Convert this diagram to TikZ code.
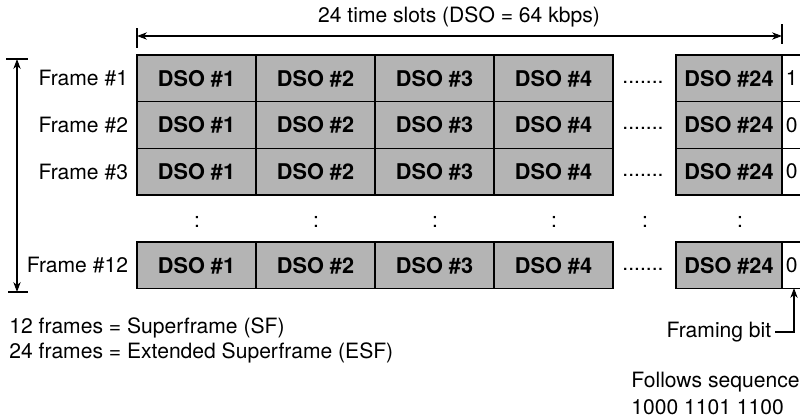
\documentclass[tikz,border=0pt]{standalone}
\usepackage{fontspec}
\setmainfont{TeX Gyre Heros}
\usetikzlibrary{arrows.meta,positioning}
\definecolor{slotgray}{RGB}{180,180,180}
\tikzset{
  dsocell/.style={draw, fill=slotgray, line width=1.1pt, minimum width=3.57cm,
    minimum height=1.4cm, inner sep=0pt, outer sep=0pt,
    font=\fontsize{18.5}{21}\selectfont\bfseries},
  lastcell/.style={dsocell, minimum width=3.18cm},
  bitcell/.style={draw, fill=white, line width=1.1pt, minimum width=1cm,
    minimum height=1.4cm, inner sep=0pt, outer sep=0pt},
  lbl/.style={font=\fontsize{18}{21}\selectfont, inner sep=1pt},
  bitlbl/.style={lbl, anchor=west, inner sep=3pt},
  dimln/.style={{Stealth[length=3mm,width=2.2mm]}-{Stealth[length=3mm,width=2.2mm]}, line width=0.9pt},
  ptrln/.style={-{Stealth[length=3mm,width=2.2mm]}, line width=0.9pt},
  tickln/.style={line width=0.9pt},
}
\begin{document}
\begin{tikzpicture}[x=0.03cm,y=-0.03cm]
  \useasboundingbox (0,0) rectangle (800,419);
  % one row of time slots per frame
  \foreach \r/\top/\bit in {1/55/1,2/101.67/0,3/148.33/0,12/242/0}{
    \foreach \c in {1,...,4}
      \node[dsocell, anchor=north west] (f\r c\c) at ({137+119*(\c-1)},\top) {DSO \#\c};
    \node[lastcell, anchor=north west] (f\r c24) at (676,\top) {DSO \#24};
    \node[bitcell, right=0pt of f\r c24, label={[bitlbl]west:\bit}] (f\r b) {};
    \node[lbl, left=6.5pt of f\r c1] (lab\r) {Frame \#\r};
    \node[lbl] (gap\r) at (643,\top+27) {.......};
  }
  % frames 4 to 11 left out
  \foreach \x in {197,316,435,554,645,740}
    \node[lbl] (vd\x) at (\x,222) {:};
  % width of a frame
  \node[lbl] (slots) at (459,17) {24 time slots (DSO = 64 kbps)};
  \coordinate (slotL) at (137,36);
  \coordinate (slotR) at (782,36);
  \draw[dimln] (slotL) -- (slotR);
  \draw[tickln] (137,28) -- (137,48);
  \draw[tickln] (782,24) -- (782,44);
  % height of a superframe
  \coordinate (sfT) at (17,59);
  \coordinate (sfB) at (17,292);
  \draw[dimln] (sfT) -- (sfB);
  \draw[tickln] (6,59) -- (28,59);
  \draw[tickln] (8,292) -- (28,292);
  \node[lbl, anchor=west] (sf) at (8,328) {12 frames = Superframe (SF)};
  \node[lbl, anchor=west] (esf) at (8,353) {24 frames = Extended Superframe (ESF)};
  % framing bit
  \node[lbl, anchor=east, inner sep=3pt] (fbit) at (775,332) {Framing bit};
  \coordinate (fbtip) at (794,288);
  \draw[ptrln] (fbit.east) -| (fbtip);
  \node[lbl, anchor=west] (seq) at (630,382) {Follows sequence};
  \node[lbl, anchor=west] (seqbits) at (630,407) {1000 1101 1100};
\end{tikzpicture}
\end{document}
